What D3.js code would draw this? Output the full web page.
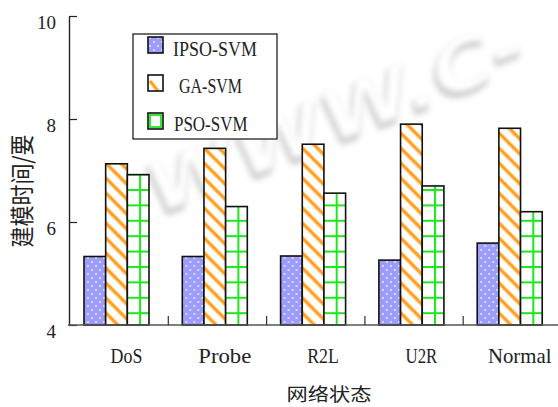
<!DOCTYPE html>
<html>
<head>
<meta charset="utf-8">
<script src="https://cdn.jsdelivr.net/npm/d3@7"></script>
<style>
  html, body { margin: 0; padding: 0; background: #fff; }
  svg { display: block; }
</style>
</head>
<body>
<svg id="chart" width="558" height="407"></svg>
<script>
// Modelling time of three SVM variants on each network state
const categories = ["DoS", "Probe", "R2L", "U2R", "Normal"];
const seriesNames = ["IPSO-SVM", "GA-SVM", "PSO-SVM"];
const ipsoSvm = [5.33, 5.33, 5.34, 5.26, 5.59];
const gaSvm   = [7.13, 7.43, 7.51, 7.90, 7.82];
const psoSvm  = [6.92, 6.30, 6.56, 6.70, 6.20];
const yTicks  = [4, 6, 8, 10];
const xTitle = "网络状态";
const yTitle = "建模时间/要";
const stampText = "WWW.C-";

const seriesValues = [ipsoSvm, gaSvm, psoSvm];
const fills = ["url(#dots)", "url(#stripes)", "url(#grid)"];

const svg = d3.select("#chart");
const W = 558, H = 407;

const y = d3.scaleLinear().domain([4, 10]).range([325, 16]);
const x = d3.scaleBand().domain(categories).range([70, 561.5]).padding(0);
const xs = d3.scaleBand().domain(seriesNames).range([14, 79]).padding(0);

// ---- pattern fills ----
const defs = svg.append("defs");

const dots = defs.append("pattern").attr("id", "dots")
  .attr("patternUnits", "userSpaceOnUse").attr("width", 8).attr("height", 8);
dots.append("rect").attr("width", 8).attr("height", 8).attr("fill", "#9c9cfc");
[[2, 2], [6, 6]].forEach(([cx, cy]) =>
  dots.append("circle").attr("cx", cx).attr("cy", cy).attr("r", 0.95)
    .attr("fill", "#ffffff").attr("opacity", 0.85));

const stripes = defs.append("pattern").attr("id", "stripes")
  .attr("patternUnits", "userSpaceOnUse").attr("width", 10.6).attr("height", 10.6)
  .attr("patternTransform", "rotate(45)");
stripes.append("rect").attr("width", 10.6).attr("height", 10.6).attr("fill", "#ffffff");
stripes.append("rect").attr("x", 0).attr("y", 3).attr("width", 10.6).attr("height", 4.4).attr("fill", "#ffd79a");
stripes.append("rect").attr("x", 0).attr("y", 3.9).attr("width", 10.6).attr("height", 2.6).attr("fill", "#ff9d1c");

const grid = defs.append("pattern").attr("id", "grid")
  .attr("patternUnits", "userSpaceOnUse").attr("width", 15.4).attr("height", 15.4)
  .attr("x", 7.5).attr("y", 4.2);
grid.append("rect").attr("width", 15.4).attr("height", 15.4).attr("fill", "#ffffff");
grid.append("rect").attr("x", 0).attr("y", 0).attr("width", 2).attr("height", 15.4).attr("fill", "#1ee61e");
grid.append("rect").attr("x", 0).attr("y", 0).attr("width", 15.4).attr("height", 2).attr("fill", "#1ee61e");

const blur = defs.append("filter").attr("id", "soft")
  .attr("x", "-20%").attr("y", "-30%").attr("width", "140%").attr("height", "160%");
blur.append("feGaussianBlur").attr("stdDeviation", 3);

// ---- faint site stamp in the background ----
const stamp = svg.append("g")
  .attr("transform", "translate(158,214) rotate(-22)");
const stampFont = g => g
  .attr("font-family", "DejaVu Sans").attr("font-weight", "bold").attr("font-style", "italic")
  .attr("font-size", 72).attr("textLength", 405).attr("lengthAdjust", "spacingAndGlyphs");
stamp.append("text").call(stampFont)
  .attr("x", -4).attr("y", 5)
  .attr("filter", "url(#soft)")
  .attr("fill", "#7a7a7a").attr("opacity", 0.42)
  .text(stampText);
stamp.append("text").call(stampFont)
  .attr("filter", "url(#soft)")
  .attr("fill", "#ffffff")
  .text(stampText);

// ---- bars ----
const groups = svg.append("g").selectAll("g")
  .data(categories).join("g")
  .attr("transform", d => `translate(${x(d)},0)`);

groups.selectAll("rect")
  .data((c, i) => seriesNames.map((s, k) => ({ s, k, v: seriesValues[k][i] })))
  .join("rect")
  .attr("x", d => xs(d.s))
  .attr("y", d => y(d.v))
  .attr("width", xs.bandwidth())
  .attr("height", d => y(4) - y(d.v))
  .attr("fill", d => fills[d.k])
  .attr("stroke", "#111")
  .attr("stroke-width", 1.6);

// ---- y axis ----
const yAxis = svg.append("g")
  .attr("transform", "translate(69,0)")
  .call(d3.axisLeft(y).tickValues(yTicks).tickSizeInner(-8).tickSizeOuter(0).tickPadding(13).tickFormat(d3.format("d")));
yAxis.select(".domain").attr("stroke", "#222").attr("stroke-width", 1.4);
yAxis.selectAll(".tick line").attr("stroke", "#222").attr("stroke-width", 1.2);
yAxis.selectAll(".tick text")
  .attr("font-family", "Liberation Serif, serif").attr("font-size", 19)
  .attr("fill", "#222").attr("dy", 12.5);

// ---- x baseline and category separators ----
const xAxis = svg.append("g")
  .attr("transform", `translate(0,${y(4)})`)
  .call(d3.axisTop(x).tickSize(0).tickFormat(""));
xAxis.select(".domain").attr("d", `M68,0H${W}`).attr("stroke", "#555").attr("stroke-width", 1.3);
xAxis.selectAll(".sep")
  .data(categories.slice(1)).join("line").attr("class", "sep")
  .attr("x1", d => x(d)).attr("x2", d => x(d))
  .attr("y1", 0).attr("y2", -9)
  .attr("stroke", "#333").attr("stroke-width", 1.2);

// category labels
svg.append("g").selectAll("text")
  .data(categories).join("text")
  .attr("x", d => x(d) + 56.5)
  .attr("y", 363)
  .attr("text-anchor", "middle")
  .attr("font-family", "Liberation Serif, serif").attr("font-size", 21)
  .attr("fill", "#222")
  .attr("textLength", d => d.length * 10.6)
  .attr("lengthAdjust", "spacingAndGlyphs")
  .text(d => d);

// axis titles
svg.append("text")
  .attr("transform", "translate(329,401) scale(1.18,1)")
  .attr("text-anchor", "middle")
  .attr("font-family", "Noto Sans CJK SC").attr("font-size", 18)
  .attr("fill", "#222")
  .text(xTitle);

svg.append("text")
  .attr("transform", "translate(31,191) scale(1.15,1) rotate(-90)")
  .attr("text-anchor", "middle")
  .attr("font-family", "Noto Sans CJK SC").attr("font-size", 21)
  .attr("fill", "#222")
  .text(yTitle);

// ---- legend ----
const legend = svg.append("g");
legend.append("rect")
  .attr("x", 133).attr("y", 34).attr("width", 144).attr("height", 105)
  .attr("fill", "#fff").attr("stroke", "#111").attr("stroke-width", 1.2);

const legendRows = [
  { name: seriesNames[0], sy: 37, ty: 56, tx: 173 },
  { name: seriesNames[1], sy: 75, ty: 93, tx: 179 },
  { name: seriesNames[2], sy: 113, ty: 131, tx: 174 }
];

legendRows.forEach((r, k) => {
  const g = legend.append("g");
  if (k === 0) {
    g.append("rect").attr("x", 148).attr("y", r.sy).attr("width", 15).attr("height", 16)
      .attr("fill", "url(#dots)").attr("stroke", "#111").attr("stroke-width", 1.6);
  } else if (k === 1) {
    g.append("rect").attr("x", 148).attr("y", r.sy).attr("width", 15).attr("height", 16)
      .attr("fill", "#fff");
    g.append("line").attr("x1", 150).attr("y1", r.sy + 6).attr("x2", 158).attr("y2", r.sy + 16)
      .attr("stroke", "#ffd79a").attr("stroke-width", 4.4);
    g.append("line").attr("x1", 150).attr("y1", r.sy + 6).attr("x2", 158).attr("y2", r.sy + 16)
      .attr("stroke", "#ff9d1c").attr("stroke-width", 2.4);
    g.append("rect").attr("x", 148).attr("y", r.sy).attr("width", 15).attr("height", 16)
      .attr("fill", "none").attr("stroke", "#111").attr("stroke-width", 1.6);
  } else {
    g.append("rect").attr("x", 148).attr("y", r.sy).attr("width", 15).attr("height", 16)
      .attr("fill", "#fff").attr("stroke", "#111").attr("stroke-width", 1.6);
    g.append("rect").attr("x", 150).attr("y", r.sy + 2).attr("width", 11).attr("height", 12)
      .attr("fill", "none").attr("stroke", "#1ee61e").attr("stroke-width", 1.8);
  }
  g.append("text")
    .attr("x", r.tx).attr("y", r.ty)
    .attr("font-family", "Liberation Serif, serif").attr("font-size", 21)
    .attr("fill", "#222")
    .attr("textLength", r.name.length * 10.5)
    .attr("lengthAdjust", "spacingAndGlyphs")
    .text(r.name);
});
</script>
</body>
</html>
